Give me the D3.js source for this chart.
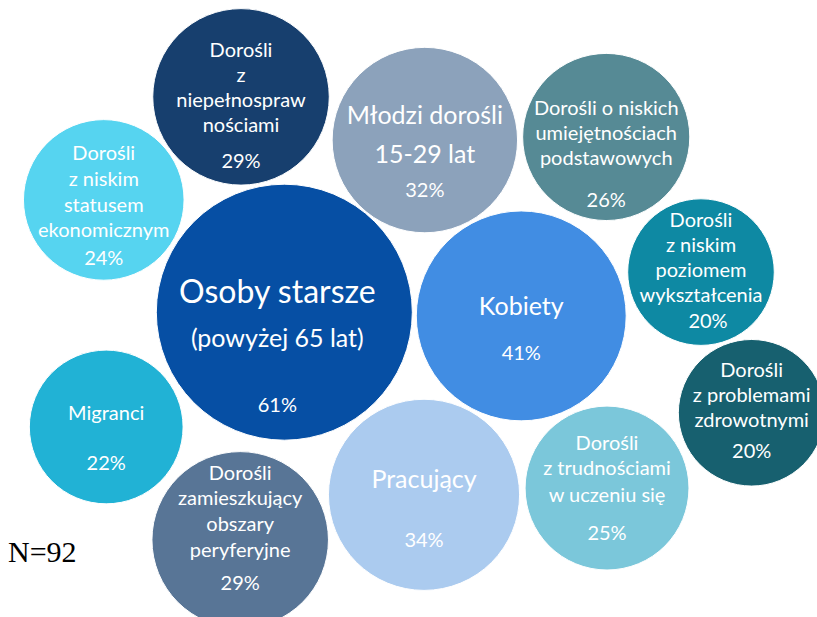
<!DOCTYPE html>
<html>
<head>
<meta charset="utf-8">
<script src="https://cdn.jsdelivr.net/npm/d3@7"></script>
<style>
  body { margin: 0; background: #fff; }
  svg { display: block; }
</style>
</head>
<body>
<div id="chart"></div>
<script>
"use strict";

// grupy docelowe (N=92), bubble chart: x, y, size = % odpowiedzi
const labels = [
  ["Dorośli", "z", "niepełnospraw", "nościami"],
  ["Młodzi dorośli", "15-29 lat"],
  ["Dorośli o niskich", "umiejętnościach", "podstawowych"],
  ["Dorośli", "z niskim", "statusem", "ekonomicznym"],
  ["Osoby starsze", "(powyżej 65 lat)"],
  ["Kobiety"],
  ["Dorośli", "z niskim", "poziomem", "wykształcenia"],
  ["Migranci"],
  ["Dorośli", "zamieszkujący", "obszary", "peryferyjne"],
  ["Pracujący"],
  ["Dorośli", "z trudnościami", "w uczeniu się"],
  ["Dorośli", "z problemami", "zdrowotnymi"]
];
const values = [29, 32, 26, 24, 61, 41, 20, 22, 29, 34, 25, 20];
const xVals = [29.5, 52.0, 74.2, 12.7, 34.8, 63.8, 85.8, 13.0, 29.4, 51.9, 74.3, 92.0];
const yVals = [84.3, 77.3, 77.8, 67.6, 49.4, 48.8, 55.9, 30.8, 12.5, 19.8, 20.9, 33.1];
const sampleNote = "N=92";

const colors = ["#173f6e", "#8ca2bb", "#568a95", "#56d4f0", "#064fa4", "#418de3",
                "#0e89a3", "#21b2d5", "#587596", "#abcbef", "#7bc7da", "#17606f"];

// label placement inside each bubble: baseline offsets from centre, font size
const layout = [
  { dy: [-40, -15, 10, 35], pct: 71, fs: [20] },
  { dy: [-16, 23], pct: 57, fs: [25, 25] },
  { dy: [-22, 3, 28], pct: 70, fs: [20] },
  { dy: [-40, -14, 12, 37], pct: 65, fs: [20] },
  { dy: [-9, 35], pct: 100, fs: [32, 25], dx: -7 },
  { dy: [-1], pct: 44, fs: [25] },
  { dy: [-45, -20, 5, 30], pct: 56, fs: [20], pdx: 7 },
  { dy: [-7], pct: 43, fs: [20] },
  { dy: [-60, -35, -9, 17], pct: 50, fs: [20] },
  { dy: [-7], pct: 52, fs: [25] },
  { dy: [-38, -13, 14], pct: 52, fs: [20] },
  { dy: [-36, -11, 14], pct: 45, fs: [20] }
];

const width = 817, height = 617;
const font = "Lato, 'Open Sans', sans-serif";

const data = values.map((v, i) => ({
  value: v, x: xVals[i], y: yVals[i], lines: labels[i], color: colors[i], lay: layout[i]
}));

const svg = d3.select("#chart")
  .append("svg")
  .attr("width", width)
  .attr("height", height);

const xScale = d3.scaleLinear().domain([0, 100]).range([0, width]);
const yScale = d3.scaleLinear().domain([0, 100]).range([height, 0]);
const rScale = d3.scaleSqrt().domain([0, 61]).range([0, 128]);

const bubble = svg.selectAll("g.bubble")
  .data(data)
  .enter()
  .append("g")
  .attr("class", "bubble")
  .attr("transform", d => `translate(${xScale(d.x)}, ${yScale(d.y)})`);

bubble.append("circle")
  .attr("r", d => rScale(d.value))
  .attr("fill", d => d.color)
  .attr("stroke", "#fff")
  .attr("stroke-width", 1);

bubble.each(function(d) {
  const g = d3.select(this);
  d.lines.forEach((line, j) => {
    g.append("text")
      .attr("x", d.lay.dx || 0)
      .attr("y", d.lay.dy[j])
      .attr("text-anchor", "middle")
      .attr("fill", "#fff")
      .attr("font-family", font)
      .attr("font-size", (d.lay.fs[j] || d.lay.fs[0]) + "px")
      .text(line);
  });
  g.append("text")
    .attr("x", (d.lay.dx || 0) + (d.lay.pdx || 0))
    .attr("y", d.lay.pct)
    .attr("text-anchor", "middle")
    .attr("fill", "#fff")
    .attr("font-family", font)
    .attr("font-size", "20px")
    .text(d.value + "%");
});

svg.append("text")
  .attr("x", 8)
  .attr("y", 562)
  .attr("font-family", "'Liberation Serif', serif")
  .attr("font-size", "30px")
  .attr("fill", "#000")
  .text(sampleNote);
</script>
</body>
</html>
